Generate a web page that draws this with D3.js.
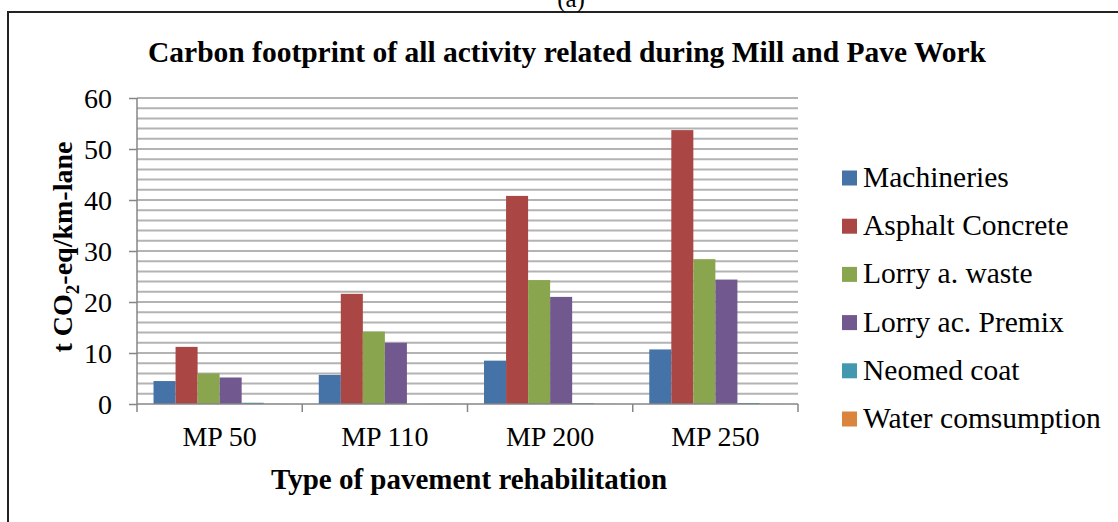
<!DOCTYPE html>
<html><head><meta charset="utf-8">
<script src="https://cdn.jsdelivr.net/npm/d3@7"></script>
<style>body{margin:0;background:#fff}svg{display:block}text{font-family:'Liberation Serif','Times New Roman',serif}</style>
</head><body>
<svg id="c" width="1118" height="522"></svg>
<script>
const categories = ["MP 50","MP 110","MP 200","MP 250"];
const seriesNames = ["Machineries","Asphalt Concrete","Lorry a. waste","Lorry ac. Premix","Neomed coat","Water comsumption"];
const machineries = [4.5, 5.7, 8.5, 10.7];
const asphaltConcrete = [11.2, 21.6, 40.8, 53.7];
const lorryWaste = [6.0, 14.2, 24.3, 28.4];
const lorryPremix = [5.2, 12.0, 21.0, 24.4];
const neomedCoat = [0.25, 0.0, 0.15, 0.2];
const waterConsumption = [0.02, 0.02, 0.02, 0.02];
const yTicks = [0,10,20,30,40,50,60];
const colors = ["#4572A7","#AA4643","#89A54E","#71588F","#4198AF","#DB843D"];

(function(){
const series = [machineries, asphaltConcrete, lorryWaste, lorryPremix, neomedCoat, waterConsumption];
const svg = d3.select("#c");
const font = "'Liberation Serif','Times New Roman',serif";

// outer frame
svg.append("rect").attr("x",8).attr("y",12).attr("width",1130).attr("height",530)
  .attr("fill","none").attr("stroke","#222").attr("stroke-width",2);
svg.append("text").attr("x",571).attr("y",7).attr("text-anchor","middle")
  .attr("font-family",font).attr("font-size",25).text("(a)");

const pL=137, pR=798, pT=98, pB=404;
const x0 = d3.scaleBand().domain(categories).range([pL,pR]).paddingInner(0).paddingOuter(0);
const x1 = d3.scaleBand().domain(d3.range(seriesNames.length)).range([0,x0.bandwidth()]).paddingOuter(0.75).paddingInner(0);
const y = d3.scaleLinear().domain([0,60]).range([pB,pT]);

// gridlines every 2
svg.append("g").selectAll("line").data(d3.range(2,61,2)).join("line")
  .attr("x1",pL).attr("x2",pR).attr("y1",d=>y(d)).attr("y2",d=>y(d))
  .attr("stroke","#b3b3b3").attr("stroke-width",2);

// bars
series.forEach((vals,si)=>{
  svg.append("g").selectAll("rect").data(vals).join("rect")
    .attr("x",(d,i)=>x0(categories[i])+x1(si))
    .attr("width",x1.bandwidth())
    .attr("y",d=>y(d)).attr("height",d=>pB-y(d))
    .attr("fill",colors[si]);
});

// y axis
const ya = svg.append("g").attr("transform",`translate(${pL},0)`)
  .call(d3.axisLeft(y).tickValues(yTicks).tickSize(8).tickPadding(17));
ya.attr("font-family",font);
ya.select(".domain").attr("stroke","#868686").attr("stroke-width",1.5).attr("d",`M0,${pT}V${pB}`);
ya.selectAll(".tick line").attr("stroke","#868686").attr("stroke-width",1.5);
ya.selectAll("text").attr("font-family",font).attr("font-size",28).attr("fill","#000").attr("dy","0.34em");

// x axis
const xa = svg.append("g").attr("transform",`translate(0,${pB})`)
  .call(d3.axisBottom(x0).tickSize(0));
xa.attr("font-family",font);
xa.select(".domain").attr("stroke","#868686").attr("stroke-width",1.5).attr("d",`M${pL},0H${pR}`);
xa.selectAll("text").attr("font-family",font).attr("font-size",28).attr("fill","#000").attr("y",42).attr("dy",0);
const bounds = categories.map(c=>x0(c)).concat([pR]);
svg.append("g").selectAll("line").data(bounds).join("line")
  .attr("x1",d=>d).attr("x2",d=>d).attr("y1",pB).attr("y2",pB+8)
  .attr("stroke","#868686").attr("stroke-width",1.5);

// titles
svg.append("text").attr("x",567).attr("y",62).attr("text-anchor","middle")
  .attr("font-family",font).attr("font-weight","bold").attr("font-size",29.5)
  .text("Carbon footprint of all activity related during Mill and Pave Work");
svg.append("text").attr("x",469).attr("y",489).attr("text-anchor","middle")
  .attr("font-family",font).attr("font-weight","bold").attr("font-size",29)
  .text("Type of pavement rehabilitation");
const yt = svg.append("text").attr("transform","translate(72,247) rotate(-90)").attr("text-anchor","middle")
  .attr("font-family",font).attr("font-weight","bold").attr("font-size",28);
yt.append("tspan").text("t CO");
yt.append("tspan").attr("font-size",19).attr("dy",7).text("2");
yt.append("tspan").attr("dy",-7).text("-eq/km-lane");

// legend
const lg = svg.append("g");
seriesNames.forEach((n,i)=>{
  const by = 187 + i*48.2;
  lg.append("rect").attr("x",842).attr("y",by-16.5).attr("width",15).attr("height",15).attr("fill",colors[i]);
  lg.append("text").attr("x",863).attr("y",by).attr("font-family",font).attr("font-size",29.5).text(n);
});
})();
</script>
</body></html>
